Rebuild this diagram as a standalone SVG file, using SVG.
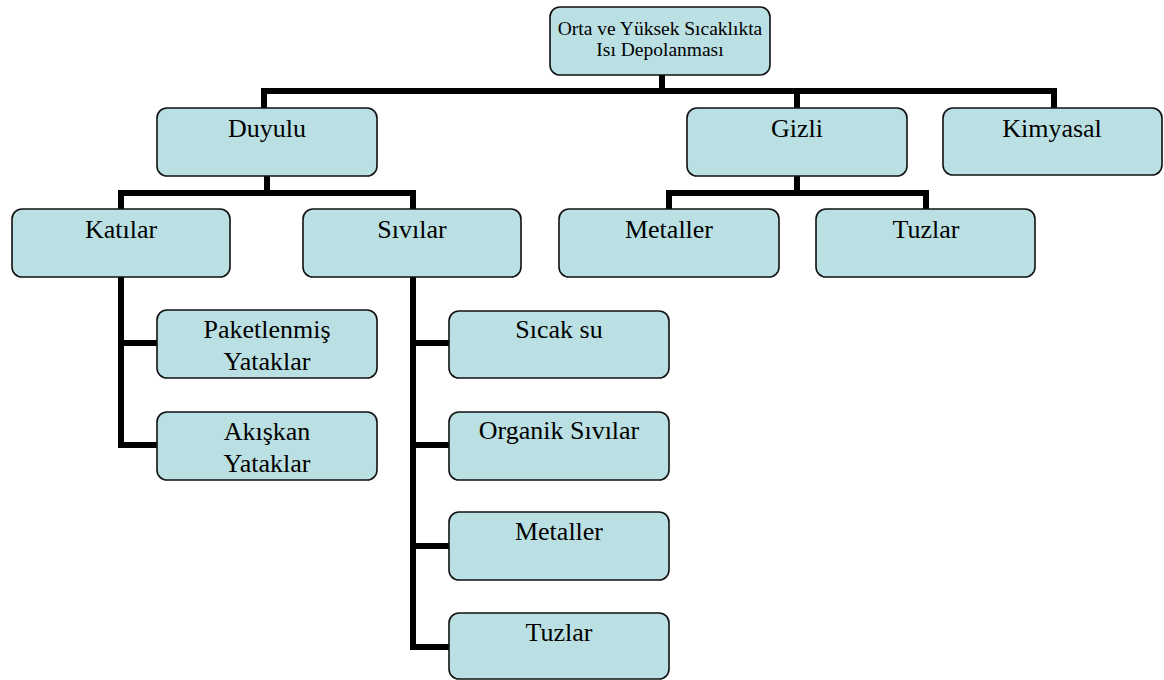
<svg xmlns="http://www.w3.org/2000/svg" width="1164" height="680" viewBox="0 0 1164 680">
<style>
.box{fill:#bbe0e3;stroke:#111;stroke-width:1.6}
.t{font-family:"Liberation Serif","Times New Roman",serif;font-size:26px;fill:#000;text-anchor:middle}
.ts{font-family:"Liberation Serif","Times New Roman",serif;font-size:19.5px;fill:#000;text-anchor:middle}
.c{fill:none;stroke:#000;stroke-width:6;stroke-linejoin:miter;stroke-linecap:square}
</style>
<rect width="1164" height="680" fill="#fff"/>
<g id="connectors">
<path class="c" d="M662 77V91M264 108V91H1054V108M797 91V108"/>
<path class="c" d="M267 176V193M121 209V193H413V209"/>
<path class="c" d="M797 176V193M669 209V193H926V209"/>
<path class="c" d="M121 277V445H157M121 343H157"/>
<path class="c" d="M413 277V647H449M413 343H449M413 445H449M413 546H449"/>
</g>
<g id="root"><rect class="box" x="550" y="7" width="220" height="68" rx="10"/><text class="ts" x="660" y="35">Orta ve Yüksek Sıcaklıkta</text><text class="ts" x="660" y="56">Isı Depolanması</text></g>
<g id="duyulu"><rect class="box" x="157" y="108" width="220" height="68" rx="10"/><text class="t" x="267" y="137">Duyulu</text></g>
<g id="gizli"><rect class="box" x="687" y="108" width="220" height="68" rx="10"/><text class="t" x="797" y="137">Gizli</text></g>
<g id="kimyasal"><rect class="box" x="943" y="108" width="219" height="67" rx="10"/><text class="t" x="1052" y="137">Kimyasal</text></g>
<g id="katilar"><rect class="box" x="12" y="209" width="218" height="68" rx="10"/><text class="t" x="121" y="238">Katılar</text></g>
<g id="sivilar"><rect class="box" x="303" y="209" width="218" height="68" rx="10"/><text class="t" x="412" y="238">Sıvılar</text></g>
<g id="metaller1"><rect class="box" x="559" y="209" width="220" height="68" rx="10"/><text class="t" x="669" y="238">Metaller</text></g>
<g id="tuzlar1"><rect class="box" x="816" y="209" width="219" height="68" rx="10"/><text class="t" x="926" y="238">Tuzlar</text></g>
<g id="paketlenmis"><rect class="box" x="157" y="310" width="220" height="68" rx="10"/><text class="t" x="267" y="338">Paketlenmiş</text><text class="t" x="267" y="370">Yataklar</text></g>
<g id="akiskan"><rect class="box" x="157" y="412" width="220" height="68" rx="10"/><text class="t" x="267" y="440">Akışkan</text><text class="t" x="267" y="472">Yataklar</text></g>
<g id="sicaksu"><rect class="box" x="449" y="311" width="220" height="67" rx="10"/><text class="t" x="559" y="338">Sıcak su</text></g>
<g id="organik"><rect class="box" x="449" y="412" width="220" height="68" rx="10"/><text class="t" x="559" y="439">Organik Sıvılar</text></g>
<g id="metaller2"><rect class="box" x="449" y="512" width="220" height="68" rx="10"/><text class="t" x="559" y="540">Metaller</text></g>
<g id="tuzlar2"><rect class="box" x="449" y="613" width="220" height="66" rx="10"/><text class="t" x="559" y="641">Tuzlar</text></g>
</svg>
